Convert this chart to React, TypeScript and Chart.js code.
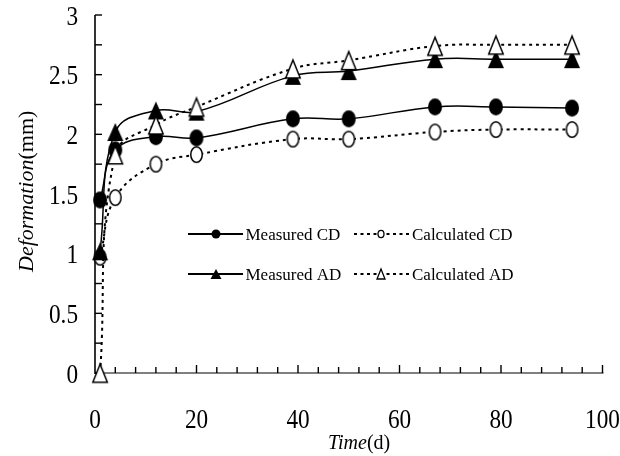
import React, { useEffect, useRef } from 'react';
import { Chart, registerables } from 'chart.js';

Chart.register(...registerables);

// ---- data ----
const days = [1, 4, 12, 20, 39, 50, 67, 79, 94];
const measuredCD = [1.45, 1.87, 1.98, 1.97, 2.13, 2.13, 2.23, 2.23, 2.22];
const calculatedCD = [0.97, 1.47, 1.75, 1.83, 1.96, 1.96, 2.02, 2.04, 2.04];
const measuredAD = [1.02, 2.02, 2.2, 2.19, 2.49, 2.53, 2.63, 2.63, 2.63];
const calculatedAD = [0, 1.83, 2.08, 2.23, 2.55, 2.62, 2.74, 2.75, 2.75];

const xTickLabels = [0, 20, 40, 60, 80, 100];
const yTickLabels = [0, 0.5, 1, 1.5, 2, 2.5, 3];
const xMinorStep = 4;
const yMinorStep = 0.25;
const seriesNames = ['Measured CD', 'Calculated CD', 'Measured AD', 'Calculated AD'];
const xTitle = ['Time', '(d)'];
const yTitle = ['Deformation', '(mm)'];

const SERIF = '"Liberation Serif", "Times New Roman", serif';

function makeMarker(kind: 'circle' | 'triangle', filled: boolean, w: number, h: number, lw = 1.5) {
  const pad = 2;
  const c = document.createElement('canvas');
  c.width = w + pad * 2;
  c.height = h + pad * 2;
  const ctx = c.getContext('2d')!;
  ctx.beginPath();
  if (kind === 'circle') {
    const rx = filled ? w / 2 : w / 2 - lw / 2;
    const ry = filled ? h / 2 : h / 2 - lw / 2;
    ctx.ellipse(c.width / 2, c.height / 2, rx, ry, 0, 0, Math.PI * 2);
  } else {
    const inset = filled ? 0 : lw / 2;
    ctx.moveTo(c.width / 2, pad + inset);
    ctx.lineTo(pad + inset, pad + h - inset * 0.5);
    ctx.lineTo(pad + w - inset, pad + h - inset * 0.5);
    ctx.closePath();
  }
  if (filled) {
    ctx.fillStyle = '#000';
    ctx.fill();
  } else {
    ctx.fillStyle = '#fff';
    ctx.fill();
    ctx.lineWidth = lw;
    ctx.strokeStyle = '#000';
    ctx.lineJoin = 'miter';
    ctx.stroke();
  }
  return c;
}

function drawMixed(ctx: CanvasRenderingContext2D, parts: string[], size: number, x: number, y: number) {
  ctx.font = `italic ${size}px ${SERIF}`;
  ctx.fillText(parts[0], x, y);
  const w = ctx.measureText(parts[0]).width;
  ctx.font = `${size}px ${SERIF}`;
  ctx.fillText(parts[1], x + w, y);
}

const axesPlugin = {
  id: 'customAxes',
  beforeDatasetsDraw(chart: any) {
    const ctx: CanvasRenderingContext2D = chart.ctx;
    const xs = chart.scales.x;
    const ys = chart.scales.y;
    const x0 = xs.getPixelForValue(xs.min);
    const x1 = xs.getPixelForValue(xs.max);
    const y0 = ys.getPixelForValue(ys.min);
    const y1 = ys.getPixelForValue(ys.max);
    ctx.save();
    // x axis line (gray)
    ctx.strokeStyle = '#808080';
    ctx.lineWidth = 2;
    ctx.beginPath();
    ctx.moveTo(x0, y0);
    ctx.lineTo(x1 + 1, y0);
    ctx.stroke();
    // y axis line
    ctx.strokeStyle = '#000';
    ctx.lineWidth = 1.6;
    ctx.beginPath();
    ctx.moveTo(x0, y0 + 1);
    ctx.lineTo(x0, y1);
    ctx.stroke();
    // y ticks (inward)
    ctx.lineWidth = 1.4;
    const ny = Math.round((ys.max - ys.min) / yMinorStep);
    for (let i = 0; i <= ny; i++) {
      const py = ys.getPixelForValue(ys.min + i * yMinorStep);
      ctx.beginPath();
      ctx.moveTo(x0, py);
      ctx.lineTo(x0 + 7, py);
      ctx.stroke();
    }
    // x ticks (inward)
    const nx = Math.round((xs.max - xs.min) / xMinorStep);
    for (let i = 1; i <= nx; i++) {
      const v = xs.min + i * xMinorStep;
      const px = xs.getPixelForValue(v);
      const major = xTickLabels.includes(v);
      ctx.beginPath();
      ctx.moveTo(px, y0);
      ctx.lineTo(px, y0 - (major ? 8 : 6));
      ctx.stroke();
    }
    ctx.restore();
  },
  afterDraw(chart: any) {
    const ctx: CanvasRenderingContext2D = chart.ctx;
    const xs = chart.scales.x;
    const ys = chart.scales.y;
    ctx.save();
    ctx.fillStyle = '#000';
    ctx.font = `28px ${SERIF}`;
    ctx.textBaseline = 'alphabetic';
    // y tick labels
    ctx.textAlign = 'right';
    for (const v of yTickLabels) {
      const py = ys.getPixelForValue(v);
      ctx.save();
      ctx.translate(78, py + 9.5);
      ctx.scale(0.83, 1);
      ctx.fillText(String(v), 0, 0);
      ctx.restore();
    }
    // x tick labels
    ctx.textAlign = 'center';
    for (const v of xTickLabels) {
      const px = xs.getPixelForValue(v);
      ctx.save();
      ctx.translate(px, 428);
      ctx.scale(0.83, 1);
      ctx.fillText(String(v), 0, 0);
      ctx.restore();
    }
    // titles
    ctx.textAlign = 'left';
    drawMixed(ctx, xTitle, 20, 328, 449);
    ctx.save();
    ctx.translate(33, 272);
    ctx.rotate(-Math.PI / 2);
    drawMixed(ctx, yTitle, 22, 0, 0);
    ctx.restore();

    // legend
    const rows = [234, 274];
    const cols = [
      { l0: 188, l1: 243, m: 216, t: 245.5, dash: [] as number[] },
      { l0: 354, l1: 410, m: 381, t: 412, dash: [3, 3.5] },
    ];
    ctx.font = `17px ${SERIF}`;
    for (let i = 0; i < 4; i++) {
      const row = Math.floor(i / 2);
      const col = cols[i % 2];
      const y = rows[row];
      const filled = i % 2 === 0;
      ctx.save();
      ctx.strokeStyle = '#000';
      ctx.lineWidth = filled ? 1.8 : 2;
      ctx.setLineDash(col.dash);
      ctx.beginPath();
      ctx.moveTo(col.l0, y);
      ctx.lineTo(col.l1, y);
      ctx.stroke();
      ctx.setLineDash([]);
      ctx.beginPath();
      if (row === 0) {
        if (filled) ctx.ellipse(col.m, y, 4.5, 4.5, 0, 0, Math.PI * 2);
        else ctx.ellipse(col.m, y, 3, 3.6, 0, 0, Math.PI * 2);
      } else {
        const hw = filled ? 5.5 : 4;
        const hh = 5;
        ctx.moveTo(col.m, y - hh);
        ctx.lineTo(col.m - hw, y + hh);
        ctx.lineTo(col.m + hw, y + hh);
        ctx.closePath();
      }
      if (filled) {
        ctx.fillStyle = '#000';
        ctx.fill();
      } else {
        ctx.fillStyle = '#fff';
        ctx.fill();
        ctx.lineWidth = 1.3;
        ctx.stroke();
      }
      ctx.restore();
      ctx.fillStyle = '#000';
      ctx.textAlign = 'left';
      ctx.fillText(seriesNames[i], col.t, y + 6);
    }
    ctx.restore();
  },
};

function toPoints(values: number[]) {
  return days.map((d, i) => ({ x: d, y: values[i] }));
}

export default function App() {
  const ref = useRef<HTMLCanvasElement>(null);
  useEffect(() => {
    const canvas = ref.current;
    if (!canvas) return;
    const fCircle = makeMarker('circle', true, 14, 17);
    const oCircle = makeMarker('circle', false, 13, 17);
    const fTri = makeMarker('triangle', true, 16, 18);
    const oTri = makeMarker('triangle', false, 16, 19);
    const common = {
      borderColor: '#000',
      backgroundColor: '#000',
      tension: 0.4,
      pointRadius: 9,
      clip: false as const,
      fill: false,
    };
    const chart = new Chart(canvas, {
      type: 'line',
      data: {
        datasets: [
          { ...common, label: seriesNames[3], data: toPoints(calculatedAD), borderWidth: 2, borderDash: [3, 4], pointStyle: oTri as any, order: 0 },
          { ...common, label: seriesNames[2], data: toPoints(measuredAD), borderWidth: 1.5, pointStyle: fTri as any, order: 1 },
          { ...common, label: seriesNames[1], data: toPoints(calculatedCD), borderWidth: 2, borderDash: [3, 4], pointStyle: oCircle as any, order: 2 },
          { ...common, label: seriesNames[0], data: toPoints(measuredCD), borderWidth: 1.5, pointStyle: fCircle as any, order: 3 },
        ],
      },
      options: {
        animation: false,
        responsive: false,
        events: [],
        layout: { padding: { left: 95, top: 15, right: 17.5, bottom: 83 } },
        plugins: { legend: { display: false }, tooltip: { enabled: false } },
        scales: {
          x: { type: 'linear', min: 0, max: 100, display: false },
          y: { type: 'linear', min: 0, max: 3, display: false },
        },
      },
      plugins: [axesPlugin],
    });
    return () => chart.destroy();
  }, []);
  return (
    <div style={{ position: 'fixed', left: 0, top: 0, width: 620, height: 456, background: '#fff' }}>
      <canvas ref={ref} width={620} height={456} style={{ display: 'block' }} />
    </div>
  );
}
